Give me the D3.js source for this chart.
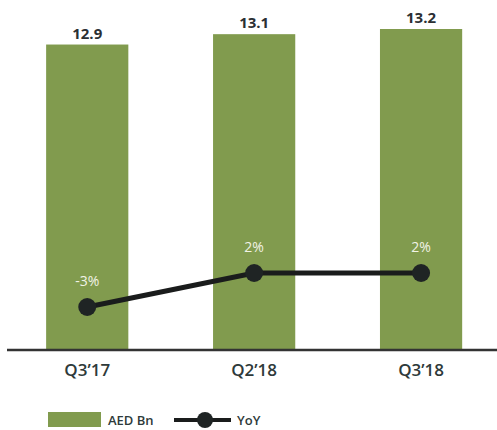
<!DOCTYPE html>
<html><head><meta charset="utf-8">
<script src="https://cdn.jsdelivr.net/npm/d3@7"></script>
<style>body{margin:0;background:#fff}svg{display:block}</style>
</head><body>
<svg id="c" width="497" height="430"></svg>
<script>
const categories = ["Q3\u201917", "Q2\u201918", "Q3\u201918"];
const aedBn = [12.9, 13.1, 13.2];
const yoy = [-3, 2, 2];
const yoyLabels = ["-3%", "2%", "2%"];
const legendLabels = ["AED Bn", "YoY"];

const svg = d3.select("#c");
const font = "'Open Sans', 'Noto Sans', sans-serif";
const barColor = "#819b4e";
const base = 350;

const x = d3.scaleBand().domain(categories).range([4.4, 503.9]).paddingInner(0.5075).paddingOuter(0.25);
const y = d3.scaleLinear().domain([7, 13.2]).range([base, 29]);
const y2 = d3.scaleLinear().domain([-3, 2]).range([307, 273]);

svg.selectAll("rect.bar").data(aedBn).join("rect")
  .attr("class", "bar")
  .attr("x", (d, i) => x(categories[i]))
  .attr("width", x.bandwidth())
  .attr("y", d => y(d))
  .attr("height", d => base - y(d))
  .attr("fill", barColor);

svg.selectAll("text.val").data(aedBn).join("text")
  .attr("class", "val")
  .attr("x", (d, i) => x(categories[i]) + x.bandwidth() / 2)
  .attr("y", d => y(d) - 6)
  .attr("text-anchor", "middle")
  .attr("font-family", font).attr("font-weight", 700).attr("font-size", 15)
  .attr("fill", "#2b2f33")
  .text(d => d.toFixed(1));

// axis
const xAxis = d3.axisBottom(x).tickSize(0).tickPadding(14);
const ax = svg.append("g").attr("transform", `translate(0,${base})`).call(xAxis);
ax.select(".domain").attr("d", "M7,0H497").attr("stroke", "#333").attr("stroke-width", 2.5);
ax.selectAll("text").attr("font-family", font).attr("font-size", 17).attr("font-weight", 600).attr("fill", "#2e3a3a");

const cx = (i) => x(categories[i]) + x.bandwidth() / 2;
const line = d3.line().x((d, i) => cx(i)).y(d => y2(d));
svg.append("path").datum(yoy).attr("d", line)
  .attr("fill", "none").attr("stroke", "#1a1c1c").attr("stroke-width", 5);
svg.selectAll("circle.pt").data(yoy).join("circle")
  .attr("class", "pt")
  .attr("cx", (d, i) => cx(i)).attr("cy", d => y2(d)).attr("r", 9)
  .attr("fill", "#1f2424");

svg.selectAll("text.yoy").data(yoy).join("text")
  .attr("class", "yoy")
  .attr("x", (d, i) => cx(i))
  .attr("y", d => y2(d) - 21)
  .attr("text-anchor", "middle")
  .attr("font-family", font).attr("font-size", 14)
  .attr("fill", "#f1f3e6")
  .text((d, i) => yoyLabels[i]);

// legend
const lg = svg.append("g");
lg.append("rect").attr("x", 48).attr("y", 412).attr("width", 53).attr("height", 15).attr("fill", barColor);
lg.append("text").attr("x", 108).attr("y", 425).text(legendLabels[0])
  .attr("font-family", font).attr("font-size", 13).attr("font-weight", 600).attr("fill", "#2e3a3a");
lg.append("line").attr("x1", 174).attr("x2", 231).attr("y1", 420).attr("y2", 420)
  .attr("stroke", "#1a1c1c").attr("stroke-width", 4);
lg.append("circle").attr("cx", 205).attr("cy", 420).attr("r", 8).attr("fill", "#1f2424");
lg.append("text").attr("x", 237).attr("y", 425).text(legendLabels[1])
  .attr("font-family", font).attr("font-size", 13).attr("font-weight", 600).attr("fill", "#2e3a3a");
</script>
</body></html>
